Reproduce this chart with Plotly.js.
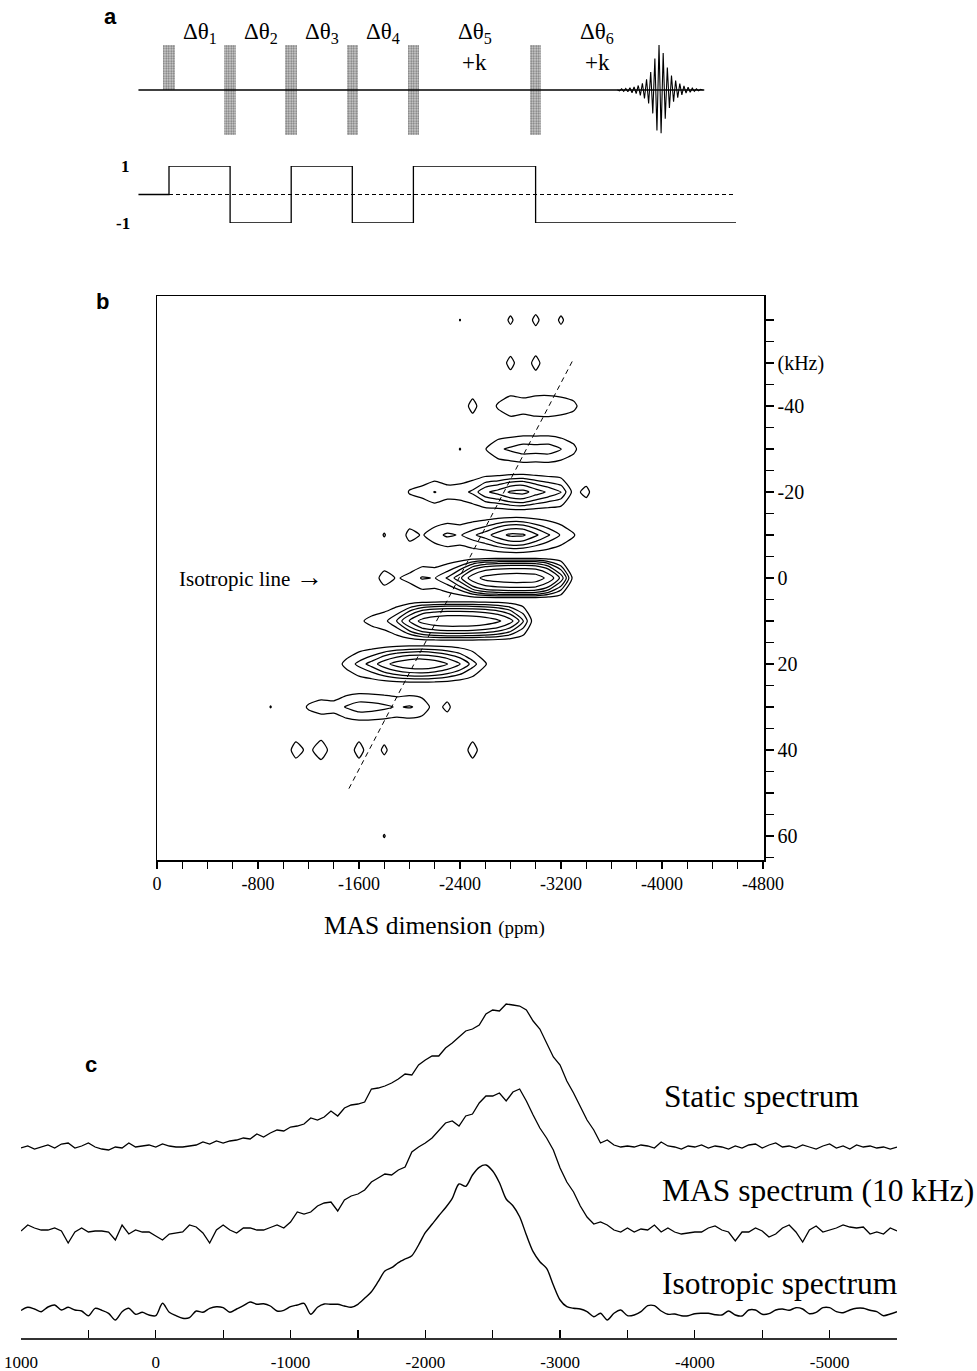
<!DOCTYPE html>
<html><head><meta charset="utf-8">
<script src="https://cdn.plot.ly/plotly-3.0.1.min.js"></script>
<style>html,body{margin:0;padding:0;background:#fff}#chart{width:977px;height:1371px}</style>
</head><body><div id="chart"></div>
<script>
// ================= panel a : pulse sequence =================
const pulseTimes   = [0, 1, 2, 3, 4, 6];
const pulseBottom  = [0, -1, -1, -1, -1, -1];
const pulseTop     = [1, 1, 1, 1, 1, 1];
const signLevels   = [1, -1, 1, -1, 1, -1];
const echoTime     = 8.02;
const seqStart     = -0.5;
const acqEnd       = 8.76;
const signEnd      = 9.28;
const intervalLabels = ['Δθ<sub>1</sub>','Δθ<sub>2</sub>','Δθ<sub>3</sub>','Δθ<sub>4</sub>','Δθ<sub>5</sub>','Δθ<sub>6</sub>'];
const intervalExtra  = ['', '', '', '', '+k', '+k'];
const fidAmps = [0.02,0.025,0.03,0.035,0.04,0.05,0.06,0.07,0.08,0.1,0.12,0.15,0.19,0.24,0.3,0.4,0.52,0.7,0.9,1.0,0.96,0.82,0.64,0.5,0.4,0.32,0.26,0.21,0.17,0.14,0.11,0.09,0.07,0.06,0.05,0.04,0.03,0.025,0.02,0.015];
const fidHalfPeriod = 0.034;

// ================= panel b : 2D contour =================
const ppmGrid = [-800,-900,-1000,-1100,-1200,-1300,-1400,-1500,-1600,-1700,-1800,-1900,-2000,-2100,-2200,-2300,-2400,-2500,-2600,-2700,-2800,-2900,-3000,-3100,-3200,-3300,-3400,-3500];
const sidebandKHz = [-60,-50,-40,-30,-20,-10,0,10,20,30,40,50,60];
const sbM60 = [0,0,0,0,0,0,0,0,0,0,0,0,0,0,0,0,1.04,0,0,0,1.25,0,1.35,0,1.25,0,0,0];
const sbM50 = [0,0,0,0,0,0,0,0,0,0,0,0,0,0,0,0,0,0,0,0,1.45,0,1.5,0,0,0,0,0];
const sbM40 = [0,0,0,0,0,0,0,0,0,0,0,0,0,0,0,0,0,1.5,0,1.15,1.9,1.6,1.9,1.95,1.7,1.3,0.2,0];
const sbM30 = [0,0,0,0,0,0,0,0,0,0,0,0,0,0,0,0,1.05,0,0.95,1.8,2.2,2.6,2.5,2.6,2.05,1.3,0,0];
const sbM20 = [0,0,0,0,0,0,0,0,0,0,0,0,1.1,1.4,2.05,1.5,1.6,2.2,3.6,4.2,5.2,5.5,4.4,3.6,2.9,0.6,1.35,0];
const sbM10 = [0,0,0,0,0,0,0,0,0,0,1.1,0,1.4,0.9,1.6,2.2,1.9,2.6,3.3,4.4,5.3,5.2,4.0,2.9,1.9,1.1,0,0];
const sb0   = [0,0,0,0,0,0,0,0,0,0.3,1.5,0.9,1.3,2.1,1.95,2.9,4.6,8,10.5,11.5,12,12,11.5,8.5,4.5,0.5,0,0];
const sbP10 = [0,0,0,0,0,0,0,0,0.8,1.3,1.7,2.9,5.2,7.5,8.5,9,9,8.8,8.2,7.2,5.5,3.0,0,0,0,0,0,0];
const sbP20 = [0,0,0,0,0,0,0.4,1.3,2.3,3.2,4.5,5.6,6.3,6.5,6.0,5.1,3.9,2.4,1.1,0,0,0,0,0,0,0,0,0];
const sbP30 = [0,1.05,0,0.3,1.15,1.5,1.4,2.1,2.6,2.5,2.25,1.9,2.1,1.7,0.5,1.3,0,0,0,0,0,0,0,0,0,0,0,0];
const sbP40 = [0,0,0,1.6,0.6,1.8,0.2,0,1.6,0,1.3,0,0,0,0,0,0,1.6,0,0,0,0,0,0,0,0,0,0];
const sbP50 = [0,0,0,0,0,0,0,0,0,0,0,0,0,0,0,0,0,0,0,0,0,0,0,0,0,0,0,0];
const sbP60 = [0,0,0,0,0,0,0,0,0,0,1.08,0,0,0,0,0,0,0,0,0,0,0,0,0,0,0,0,0];
const contourLevels = [1, 2, 2.8, 3.8, 5, 6.8, 9.5];
const isoLineX = [-1520, -3300];
const isoLineY = [49, -51];
const kHzTicks = [-60,-55,-50,-45,-40,-35,-30,-25,-20,-15,-10,-5,0,5,10,15,20,25,30,35,40,45,50,55,60,65];
const kHzLabels = {'-50':'(kHz)','-40':'-40','-20':'-20','0':'0','20':'20','40':'40','60':'60'};

// ================= panel c : 1D spectra =================
const staticSpec = [1,3,0,2,4,1,5,6,1,3, 6,2,0,-1,2,1,6,2,3,4, 2,5,3,2,2,3,4,7,5,8, 6,8,9,11,10,15,12,16,19,18,
  22,23,25,31,29,32,38,33,41,44, 45,47,60,61,63,66,70,75,74,84, 89,93,93,101,106,112,118,120,124,135,
  139,138,145,144,143,139,128,120,106,92, 84,68,56,43,29,19,6,9,4,2, 3,2,4,3,1,7,3,2,0,3,
  2,4,1,3,2,0,3,1,4,5, 1,4,6,2,3,1,4,2,0,3, 5,1,3,0,4,2,3,1,2,0,2];
const masSpec = [2,8,5,3,3,5,2,-10,1,5, 1,2,2,1,-7,8,-1,3,1,1, -3,-7,-1,0,1,8,6,0,-10,3, 8,3,0,5,5,3,3,5.5,8,5,
  11,21,19,21,27,30,31,22,33,37, 39,43,51,55,59,58,63,66,81,86, 90,95,103,110,112,107,117,119,130,137,
  137,140,132,141,144,132,118,105,95,83, 65,51,41,27,16,9,11,8,3,1, 5,1,4,3,8,1,5,1,-1,0,
  1,1,5,7,3,1,-8,1,1,5, 2,-4,-1,5,8,1,-9,3,7,1, 3,5,8,6,5,6,-1,1,-1,5,2];
const isoSpec = [1.5,4.7,3,0.3,5,7,2,4.7,2,1, -3.7,3.7,1.7,-1.3,-8,0.3,3.7,-2.3,-0.3,-3, -3.7,8.7,-0.3,-3.7,-6.3,-5.7,1,-0.3,3.7,5.3,
  4.3,-0.3,3,6.3,10,7.7,8.3,6,1,1.7, 5.3,7,8.7,-2.3,4.7,8,7.7,7.7,6,4.7, 7.7,13.7,20.3,30.3,41,44.3,49.3,53,56.3,67,
  79.3,87.7,96.3,104.3,113.7,128,125.7,137,144.7,147, 141,129.3,113,106.3,95.3,77,60.3,50.3,43.7,27,
  12,5.3,3.7,3,0.3,-4.7,-1.3,-8,-1.3,2, -3.7,-3,0.3,6.3,6.3,1,-2.3,-2,-3.7,-3.7,
  -1.7,-1.3,-1.3,-2.7,-3,1,-3,-4,2,2, -2.3,-1.7,2,3,1.7,4.3,3,-1.7,-0.3,4.3, 4.3,0.3,-0.7,2,3.7,3.7,1.7,0.3,-3.7,-2,0.3];
const specStartPpm = 1000, specStepPpm = -50;
const stackOffset = {static: 189, mas: 105, iso: 26};

// ---------------- build ----------------
const SERIF = 'Liberation Serif, Times New Roman, serif';
const SANS = 'Liberation Sans, Arial, sans-serif';
const traces = [];

// panel a
traces.push({type:'scatter', mode:'lines', x:[seqStart, acqEnd], y:[0,0], xaxis:'x', yaxis:'y', line:{color:'#000', width:1.3}, hoverinfo:'skip'});
traces.push({type:'bar', x:pulseTimes, base:pulseBottom, y:pulseTop.map((t,i)=>t-pulseBottom[i]), width:0.19,
  xaxis:'x', yaxis:'y', hoverinfo:'skip',
  marker:{color:'#c8c8c8', line:{width:0}, pattern:{shape:'.', bgcolor:'#d2d2d2', fgcolor:'#777', size:2.5, solidity:0.45}}});
const iMax = fidAmps.indexOf(Math.max(...fidAmps));
const fidX = [], fidY = [];
fidX.push(echoTime + (-1 - iMax)*fidHalfPeriod); fidY.push(0);
fidAmps.forEach((a,i)=>{ fidX.push(echoTime + (i - iMax)*fidHalfPeriod); fidY.push(((i - iMax) % 2 === 0 ? 1 : -1) * a); });
fidX.push(echoTime + (fidAmps.length - iMax)*fidHalfPeriod); fidY.push(0);
traces.push({type:'scatter', mode:'lines', x:fidX, y:fidY, xaxis:'x', yaxis:'y', line:{color:'#000', width:1.1}, hoverinfo:'skip'});
// sign track
const sqX = [seqStart].concat(pulseTimes, [signEnd]);
const sqY = [0].concat(signLevels, [signLevels[signLevels.length-1]]);
traces.push({type:'scatter', mode:'lines', x:sqX, y:sqY, xaxis:'x', yaxis:'y4', line:{color:'#000', width:1.3, shape:'hv'}, hoverinfo:'skip'});
traces.push({type:'scatter', mode:'lines', x:[pulseTimes[0], signEnd], y:[0,0], xaxis:'x', yaxis:'y4', line:{color:'#000', width:1, dash:'4px,3px'}, hoverinfo:'skip'});

// panel b
const rowMap = {'-60':sbM60,'-50':sbM50,'-40':sbM40,'-30':sbM30,'-20':sbM20,'-10':sbM10,'0':sb0,'10':sbP10,'20':sbP20,'30':sbP30,'40':sbP40,'50':sbP50,'60':sbP60};
const yGrid = [], Z = [];
for (let k = -65; k <= 65; k += 5) {
  yGrid.push(k);
  Z.push(rowMap[String(k)] ? rowMap[String(k)] : ppmGrid.map(()=>0));
}
contourLevels.forEach(L => traces.push({type:'contour', x:ppmGrid, y:yGrid, z:Z, xaxis:'x2', yaxis:'y2',
  showscale:false, hoverinfo:'skip',
  contours:{coloring:'none', start:L, end:L, size:1, showlabels:false},
  line:{color:'#000', width:1.25, smoothing:0.6}}));
traces.push({type:'scatter', mode:'lines', x:isoLineX, y:isoLineY, xaxis:'x2', yaxis:'y2', line:{color:'#000', width:1, dash:'5px,4px'}, hoverinfo:'skip'});

// panel c
const ppmAxis = staticSpec.map((_,i)=> specStartPpm + i*specStepPpm);
traces.push({type:'scatter', mode:'lines', x:ppmAxis, y:staticSpec.map(v=>v+stackOffset.static), xaxis:'x3', yaxis:'y3', line:{color:'#000', width:1.3}, hoverinfo:'skip'});
traces.push({type:'scatter', mode:'lines', x:ppmAxis, y:masSpec.map(v=>v+stackOffset.mas), xaxis:'x3', yaxis:'y3', line:{color:'#000', width:1.3}, hoverinfo:'skip'});
traces.push({type:'scatter', mode:'lines', x:ppmAxis, y:isoSpec.map(v=>v+stackOffset.iso), xaxis:'x3', yaxis:'y3', line:{color:'#000', width:1.4, shape:'spline', smoothing:0.8}, hoverinfo:'skip'});

// ---------------- layout ----------------
const H = 1371, W = 977;
const py = px => 1 - px / H;
const pxx = px => px / W;

const xb = []; for (let v = 0; v >= -4800; v -= 200) xb.push(v);
const xc = []; for (let v = 1000; v >= -5500; v -= 500) xc.push(v);

const annotations = [];
function note(text, xpx, ypx, size, family, xanchor) {
  annotations.push({text, x:pxx(xpx), y:py(ypx), xref:'paper', yref:'paper', xanchor:xanchor||'center', yanchor:'middle',
    showarrow:false, font:{family, size, color:'#000'}});
}
// panel letters
note('<b>a</b>', 110, 16, 22, SANS);
note('<b>b</b>', 102, 302, 22, SANS);
note('<b>c</b>', 91, 1064, 22, SANS);
// interval labels
const allT = pulseTimes.concat([echoTime]);
intervalLabels.forEach((lab,i)=>{
  const mid = (allT[i] + allT[i+1]) / 2;
  annotations.push({text:lab, x:mid, y:py(33), xref:'x', yref:'paper', xanchor:'center', yanchor:'middle', showarrow:false, font:{family:SERIF, size:23, color:'#000'}});
  if (intervalExtra[i]) annotations.push({text:intervalExtra[i], x:mid, y:py(62), xref:'x', yref:'paper', xanchor:'center', yanchor:'middle', showarrow:false, font:{family:SERIF, size:23, color:'#000'}});
});
annotations.push({text:'<b>1</b>', x:-0.6, y:1, xref:'x', yref:'y4', xanchor:'right', yanchor:'middle', showarrow:false, font:{family:SERIF, size:17, color:'#000'}});
annotations.push({text:'<b>-1</b>', x:-0.6, y:-1, xref:'x', yref:'y4', xanchor:'right', yanchor:'middle', showarrow:false, font:{family:SERIF, size:17, color:'#000'}});
// panel b texts
note('Isotropic line <span style="font-size:27px">→</span>', 177, 577, 21, SERIF, 'left');
note('MAS dimension <span style="font-size:19px">(ppm)</span>', 434, 925, 25.5, SERIF);
// panel c texts
note('Static spectrum', 662, 1096, 31.5, SERIF, 'left');
note('MAS spectrum (10 kHz)', 660, 1190, 31.5, SERIF, 'left');
note('Isotropic spectrum', 660, 1283, 31.5, SERIF, 'left');

const layout = {
  width:W, height:H, margin:{l:0,r:0,t:0,b:0}, paper_bgcolor:'#fff', plot_bgcolor:'rgba(0,0,0,0)',
  showlegend:false, font:{family:SERIF, color:'#000'}, bargap:0,
  xaxis:{domain:[0,1], range:[-169/61.1, (W-169)/61.1], visible:false, fixedrange:true},
  yaxis:{domain:[py(135), py(45)], range:[-1,1], visible:false, fixedrange:true},
  yaxis4:{domain:[py(223), py(166)], range:[-1,1], visible:false, anchor:'x', fixedrange:true},
  xaxis2:{domain:[pxx(157), pxx(764)], anchor:'y2', range:[0,-4808], showgrid:false, zeroline:false,
    showline:true, mirror:true, linecolor:'#000', linewidth:1.5,
    ticks:'outside', ticklen:7, tickwidth:1.2, tickcolor:'#000',
    tickmode:'array', tickvals:xb, ticktext:xb.map(v=> v % 800 === 0 ? String(v) : ''),
    tickfont:{family:SERIF, size:18, color:'#000'}},
  yaxis2:{domain:[py(860), py(296)], anchor:'x2', side:'right', range:[65.6,-65.6], showgrid:false, zeroline:false,
    showline:true, mirror:true, linecolor:'#000', linewidth:1.5,
    ticks:'outside', ticklen:8, tickwidth:1.2, tickcolor:'#000',
    tickmode:'array', tickvals:kHzTicks, ticktext:kHzTicks.map(v=> kHzLabels[String(v)] || ''),
    tickfont:{family:SERIF, size:20, color:'#000'}},
  xaxis3:{domain:[pxx(21), pxx(897)], anchor:'y3', range:[1000,-5500], showgrid:false, zeroline:false,
    showline:true, linecolor:'#333', linewidth:2,
    ticks:'inside', ticklen:8, tickwidth:1.2, tickcolor:'#000',
    tickmode:'array', tickvals:xc, ticktext:xc.map(v=> v % 1000 === 0 ? String(v) : ''),
    ticklabelstandoff:8,
    tickfont:{family:SERIF, size:17, color:'#000'}},
  yaxis3:{domain:[py(1338), py(995)], anchor:'x3', range:[0,343], visible:false},
  annotations:annotations
};

Plotly.newPlot('chart', traces, layout, {staticPlot:true, displayModeBar:false});
</script>
</body></html>
